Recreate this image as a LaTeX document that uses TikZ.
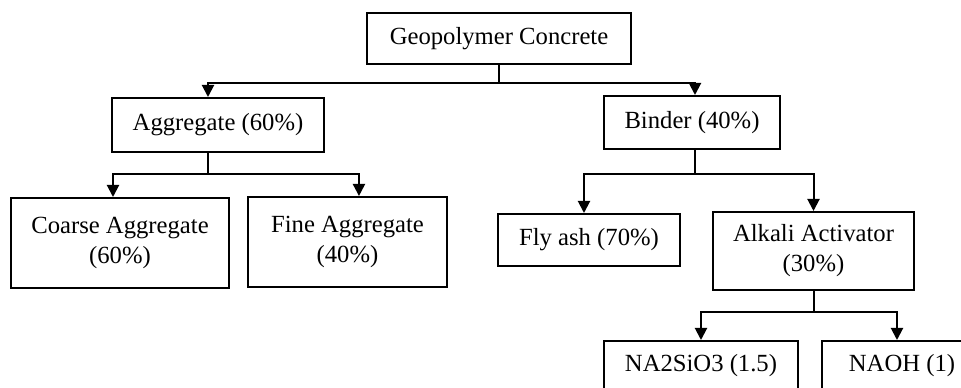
\documentclass[tikz,border=0pt]{standalone}
\usepackage{fontspec}
\setmainfont{Liberation Serif}
\usetikzlibrary{arrows.meta,positioning,calc}

\tikzset{
  part/.style={draw,line width=1.5pt,inner sep=0pt,align=center,
    font=\fontsize{18.5}{22.5}\selectfont},
  link/.style={line width=1.5pt},
  down/.style={link,-{Triangle[length=9pt,width=9pt]}}
}

\begin{document}
\begin{tikzpicture}[x=0.75pt,y=-0.75pt]
  \clip (0,0) rectangle (961,388);
  % boxes
  \node (gc) [part,minimum width=264*0.75pt,minimum height=51*0.75pt] at (499,38.5) {Geopolymer Concrete};
  \node (agg) [part,minimum width=212*0.75pt,minimum height=54*0.75pt] at (218,125) {Aggregate (60\%)};
  \node (bind) [part,minimum width=176*0.75pt,minimum height=53*0.75pt] at (692,122.5) {Binder (40\%)};
  \node (coarse) [part,minimum width=218*0.75pt,minimum height=90*0.75pt] at (120,243) {Coarse Aggregate\\(60\%)};
  \node (fine) [part,minimum width=199*0.75pt,minimum height=90*0.75pt] at (347.5,242) {Fine Aggregate\\(40\%)};
  \node (fly) [part,minimum width=182*0.75pt,minimum height=52*0.75pt] at (589,240) {Fly ash (70\%)};
  \node (alk) [part,minimum width=201*0.75pt,minimum height=78*0.75pt] at (813.5,251) {Alkali Activator\\(30\%)};
  \node (na2) [part,minimum width=194*0.75pt,minimum height=50*0.75pt,anchor=north] at (701,340) {NA2SiO3 (1.5)};
  \node (naoh) [part,minimum width=160*0.75pt,minimum height=50*0.75pt,anchor=north west] at (821,340) {NAOH (1)};

  % branch points
  \coordinate (gcjoin) at (gc.south |- 0,83);
  \coordinate (aggjoin) at (208,174);
  \coordinate (bindjoin) at (695,174);
  \coordinate (alkjoin) at (alk.south |- 0,312);

  % connectors
  \draw[link] (gc) -- (gcjoin);
  \draw[down] (gcjoin) -| ([xshift=-7.5pt]agg.north);
  \draw[down] (gcjoin) -| ([xshift=2.25pt]bind.north);
  \draw[link] ([xshift=-7.5pt]agg.south) -- (aggjoin);
  \draw[down] (aggjoin) -| ([xshift=-5.25pt]coarse.north);
  \draw[down] (aggjoin) -| ([xshift=8.6pt]fine.north);
  \draw[link] ([xshift=2.25pt]bind.south) -- (bindjoin);
  \draw[down] (bindjoin) -| ([xshift=-3.75pt]fly.north);
  \draw[down] (bindjoin) -| (alk.north);
  \draw[link] (alk.south) -- (alkjoin);
  \draw[down] (alkjoin) -| (na2.north);
  \draw[down] (alkjoin) -| ([xshift=57pt]naoh.north west);
\end{tikzpicture}
\end{document}
